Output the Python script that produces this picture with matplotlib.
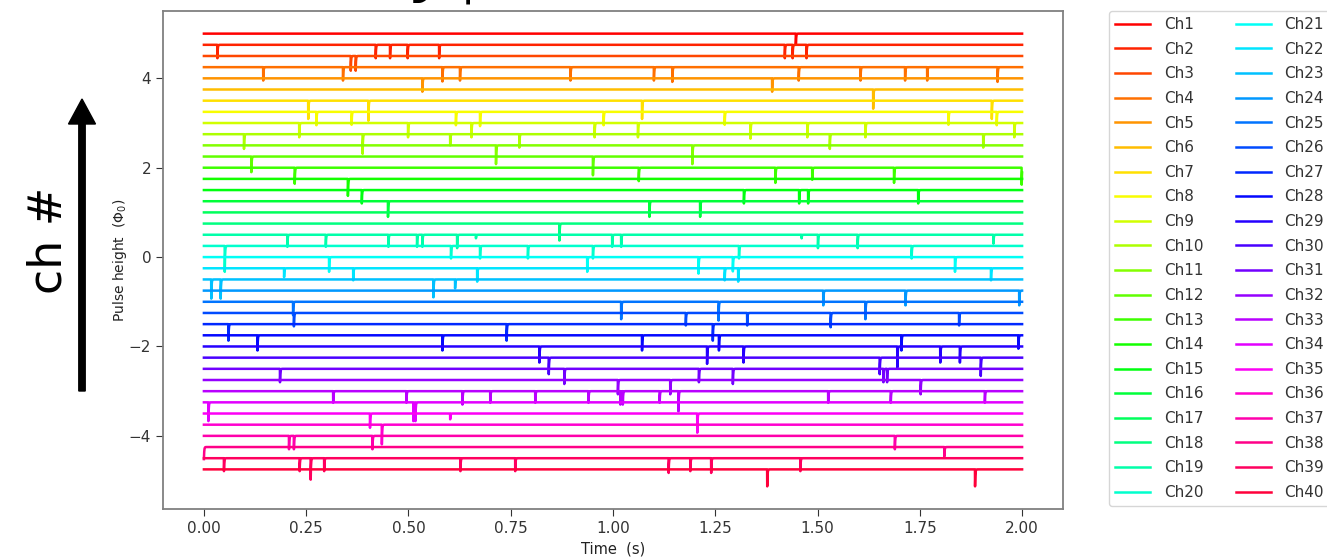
import numpy as np
import matplotlib
matplotlib.use("Agg")
import matplotlib.pyplot as plt
from matplotlib.patches import FancyArrow
from matplotlib.transforms import IdentityTransform

# ---------------- data ----------------
channels = [f"Ch{i}" for i in range(1, 41)]
offsets = [5.0 - 0.25 * i for i in range(40)]          # baseline of each channel (Phi0)
x_ticks = [0.0, 0.25, 0.5, 0.75, 1.0, 1.25, 1.5, 1.75, 2.0]
y_ticks = [-4, -2, 0, 2, 4]

# pulse arrival times (s) per channel
pulse_times = [
    [1.447],
    [0.033, 0.420, 0.455, 0.498, 0.575, 1.420, 1.439, 1.473],
    [0.359, 0.371],
    [0.145, 0.340, 0.583, 0.626, 0.896, 1.100, 1.145, 1.454, 1.605, 1.714, 1.768, 1.940],
    [0.534, 1.389],
    [1.636],
    [0.255, 0.402, 1.071, 1.926],
    [0.275, 0.361, 0.616, 0.675, 0.977, 1.273, 1.820, 1.938],
    [0.233, 0.499, 0.654, 0.955, 1.061, 1.336, 1.475, 1.617, 1.981],
    [0.098, 0.388, 0.602, 0.771, 1.530, 1.905],
    [0.714, 1.194],
    [0.116, 0.951],
    [0.222, 1.063, 1.397, 1.487, 1.687, 1.999],
    [0.352],
    [0.386, 1.320, 1.455, 1.477, 1.746],
    [0.450, 1.089, 1.213],
    [],
    [0.869],
    [0.204, 0.298, 0.451, 0.521, 0.534, 0.619, 0.665, 0.998, 1.020, 1.461, 1.501, 1.598, 1.930],
    [0.051, 0.604, 0.675, 0.792, 0.951, 1.308, 1.730],
    [0.306, 0.937, 1.209, 1.293, 1.836],
    [0.196, 0.365, 0.668, 1.273, 1.306, 1.924],
    [0.018, 0.041, 0.561, 0.614],
    [1.514, 1.715, 1.993],
    [0.218, 1.020, 1.258, 1.617],
    [0.220, 1.178, 1.328, 1.532, 1.846],
    [0.060, 0.740, 1.244],
    [0.131, 0.583, 1.071, 1.259, 1.705, 1.991],
    [0.820, 1.230, 1.319, 1.695, 1.800, 1.848],
    [0.843, 1.652, 1.899],
    [0.186, 0.881, 1.210, 1.293, 1.661, 1.670],
    [1.012, 1.140, 1.752],
    [0.316, 0.495, 0.632, 0.700, 0.810, 0.940, 1.018, 1.024, 1.114, 1.160, 1.526, 1.679, 1.909],
    [0.011, 0.512, 0.517],
    [0.406, 0.602, 1.206],
    [0.435],
    [0.208, 0.220, 0.412, 1.689],
    [0.000, 1.810],
    [0.049, 0.234, 0.261, 0.294, 0.627, 0.761, 1.136, 1.189, 1.240, 1.458],
    [1.377, 1.885],
]

# pulse heights (Phi0) per channel
pulse_heights = [
    [0.25],
    [0.30, 0.30, 0.30, 0.30, 0.30, 0.30, 0.30, 0.30],
    [0.33, 0.33],
    [0.30, 0.30, 0.32, 0.30, 0.30, 0.30, 0.33, 0.30, 0.30, 0.30, 0.30, 0.33],
    [0.30, 0.30],
    [0.43],
    [0.41, 0.45, 0.41, 0.41],
    [0.30, 0.29, 0.30, 0.32, 0.30, 0.29, 0.29, 0.30],
    [0.32, 0.32, 0.32, 0.32, 0.32, 0.35, 0.32, 0.32, 0.32],
    [0.33, 0.44, 0.25, 0.30, 0.33, 0.30],
    [0.42, 0.42],
    [0.35, 0.42],
    [0.36, 0.30, 0.34, 0.27, 0.34, 0.38],
    [0.38],
    [0.30, 0.30, 0.30, 0.30, 0.30],
    [0.35, 0.35, 0.35],
    [],
    [0.38],
    [0.27, 0.27, 0.27, 0.27, 0.27, 0.30, 0.08, 0.27, 0.27, 0.08, 0.30, 0.30, 0.20],
    [0.58, 0.28, 0.28, 0.28, 0.28, 0.28, 0.28],
    [0.33, 0.33, 0.37, 0.32, 0.33],
    [0.20, 0.27, 0.30, 0.27, 0.30, 0.27],
    [0.43, 0.43, 0.40, 0.20],
    [0.33, 0.33, 0.33],
    [0.30, 0.39, 0.42, 0.39],
    [0.30, 0.28, 0.28, 0.32, 0.28],
    [0.37, 0.37, 0.37],
    [0.34, 0.34, 0.34, 0.34, 0.34, 0.30],
    [0.36, 0.39, 0.36, 0.47, 0.36, 0.36],
    [0.37, 0.37, 0.41],
    [0.30, 0.34, 0.30, 0.34, 0.30, 0.30],
    [0.32, 0.32, 0.32],
    [0.26, 0.26, 0.30, 0.26, 0.26, 0.26, 0.30, 0.30, 0.26, 0.45, 0.26, 0.26, 0.26],
    [0.42, 0.42, 0.42],
    [0.32, 0.13, 0.43],
    [0.44],
    [0.30, 0.30, 0.30, 0.30],
    [0.27, 0.21],
    [0.29, 0.29, 0.48, 0.29, 0.29, 0.29, 0.33, 0.29, 0.33, 0.29],
    [0.38, 0.38],
]

# ---------------- figure ----------------
W, H = 1327, 558
fig = plt.figure(figsize=(W / 100, H / 100), dpi=100)
ax = fig.add_axes([163 / W, 1 - 509 / H, 900 / W, 498 / H])

t = np.linspace(0.0, 2.0, 8001)
tau = 0.0008
cmap = plt.get_cmap("hsv")
for i, name in enumerate(channels):
    y = np.full_like(t, offsets[i])
    for t0, a in zip(pulse_times[i], pulse_heights[i]):
        m = t >= t0
        y[m] -= a * np.exp(-(t[m] - t0) / tau)
    ax.plot(t, y, color=cmap(i / 40), lw=1.8, label=name)

ax.set_xticks(x_ticks)
ax.set_yticks(y_ticks)
ax.tick_params(labelsize=11, colors="#333333", length=5)
for sp in ax.spines.values():
    sp.set_color("#808080")
    sp.set_linewidth(1.3)
ax.set_xlabel("Time  (s)", fontsize=10.5, color="#222222")
ax.set_ylabel("Pulse height  ($\\Phi_0$)", fontsize=10, color="#222222")
ax.yaxis.set_label_coords((129 - 163) / 900, 0.5)
ax.xaxis.set_label_coords(0.5, -(541 - 509) / 498)

leg = ax.legend(ncol=2, loc="upper left", bbox_to_anchor=(1109 / W, 1 - 11 / H),
                bbox_transform=fig.transFigure, borderaxespad=0, fontsize=11,
                handlelength=2.3, handletextpad=0.9, columnspacing=2.1,
                labelspacing=0.63, frameon=True, fancybox=True)
for txt in leg.get_texts():
    txt.set_color("#333333")
leg.get_frame().set_edgecolor("#cccccc")

# big annotation on the left
fig.text(49 / W, 1 - 240 / H, "ch #", rotation=90, fontsize=33,
         ha="center", va="center", color="black")
fig.add_artist(FancyArrow(82, H - 391, 0, 391 - 99, width=6.4, head_width=27,
                          head_length=25, length_includes_head=True,
                          transform=IdentityTransform(), color="black"))

# title cut off at the top of the image (only descenders visible)
fig.text(368 / W, 1 + 14 / H, "Typical", fontsize=61, ha="left", va="baseline",
         color="black", fontweight="light")

fig.savefig("out.png", dpi=100)
